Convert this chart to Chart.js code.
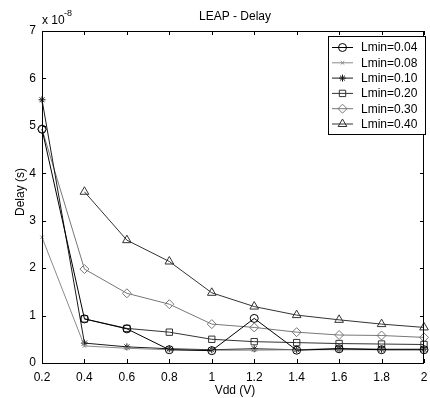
<!DOCTYPE html>
<html>
<head>
<meta charset="UTF-8" />
<title>LEAP - Delay</title>
<script src="https://cdn.jsdelivr.net/npm/chart.js"></script>
<style>
  body { margin: 0; background: #fff; }
  #wrap { width: 430px; height: 398px; }
</style>
</head>
<body>
<div id="wrap"><canvas id="delayChart" width="430" height="398"></canvas></div>
<script>
// Vdd (V) on x, delay in units of 1e-8 s on y
const vdd = [0.2, 0.4, 0.6, 0.8, 1.0, 1.2, 1.4, 1.6, 1.8, 2.0];
const lmin004 = [4.93, 0.93, 0.72, 0.28, 0.26, 0.94, 0.27, 0.30, 0.28, 0.28];
const lmin008 = [2.65, 0.36, 0.31, 0.28, 0.27, 0.27, 0.28, 0.28, 0.28, 0.28];
const lmin010 = [5.55, 0.42, 0.34, 0.30, 0.28, 0.30, 0.28, 0.30, 0.29, 0.29];
const lmin020 = [null, 0.93, 0.73, 0.65, 0.50, 0.45, 0.43, 0.41, 0.40, 0.39];
const lmin030 = [4.93, 1.98, 1.47, 1.24, 0.82, 0.75, 0.65, 0.59, 0.58, 0.54];
const lmin040 = [null, 3.61, 2.59, 2.14, 1.48, 1.19, 1.01, 0.91, 0.82, 0.75];
const xTicks = [0.2, 0.4, 0.6, 0.8, 1, 1.2, 1.4, 1.6, 1.8, 2];
const yTicks = [0, 1, 2, 3, 4, 5, 6, 7];

const FONT = "'Liberation Sans', Arial, sans-serif";

function series(label, values, color, style, radius) {
  return {
    label: label,
    data: values.map((v, i) => ({ x: vdd[i], y: v })),
    borderColor: color,
    borderWidth: 1,
    backgroundColor: 'rgba(0,0,0,0)',
    pointStyle: style,
    pointRadius: radius,
    pointBorderColor: color,
    pointBorderWidth: 1,
    tension: 0,
    clip: false,
    spanGaps: false
  };
}

const datasets = [
  series('Lmin=0.04', lmin004, '#000000', 'circle', 4),
  series('Lmin=0.08', lmin008, '#8a8a8a', 'crossRot', 2.5),
  series('Lmin=0.10', lmin010, '#1a1a1a', 'star', 3.5),
  series('Lmin=0.20', lmin020, '#333333', 'rect', 4.5),
  series('Lmin=0.30', lmin030, '#777777', 'rectRot', 4.5),
  series('Lmin=0.40', lmin040, '#333333', 'triangle', 5)
];

// frame, inward ticks, labels and legend in the MATLAB style
const matlabFrame = {
  id: 'matlabFrame',
  afterDatasetsDraw(chart) {
    const { ctx, chartArea: a, scales } = chart;
    ctx.save();
    ctx.strokeStyle = '#000';
    ctx.lineWidth = 1;
    ctx.strokeRect(a.left + 0.5, a.top + 0.5, a.right - a.left - 1, a.bottom - a.top);
    ctx.beginPath();
    xTicks.forEach(t => {
      const x = Math.round(scales.x.getPixelForValue(t)) + 0.5;
      ctx.moveTo(x, a.bottom); ctx.lineTo(x, a.bottom - 4);
      ctx.moveTo(x, a.top); ctx.lineTo(x, a.top + 4);
    });
    yTicks.forEach(t => {
      const y = Math.round(scales.y.getPixelForValue(t)) + 0.5;
      ctx.moveTo(a.left, y); ctx.lineTo(a.left + 4, y);
      ctx.moveTo(a.right, y); ctx.lineTo(a.right - 4, y);
    });
    ctx.stroke();

    // texts
    ctx.fillStyle = '#000';
    ctx.textBaseline = 'middle';
    ctx.textAlign = 'center';
    ctx.font = '12px ' + FONT;
    ctx.fillText('LEAP - Delay', 235, 17);
    ctx.fillText('Vdd (V)', 235, 391);
    ctx.textAlign = 'left';
    ctx.fillText('x 10', 42, 21);
    ctx.font = '9px ' + FONT;
    ctx.fillText('-8', 64, 14);
    ctx.save();
    ctx.translate(21, 192);
    ctx.rotate(-Math.PI / 2);
    ctx.textAlign = 'center';
    ctx.font = '12px ' + FONT;
    ctx.fillText('Delay (s)', 0, 0);
    ctx.restore();

    // legend box
    const bx = 328, by = 36, bw = 97, bh = 98;
    ctx.fillStyle = '#fff';
    ctx.fillRect(bx, by, bw, bh);
    ctx.strokeStyle = '#000';
    ctx.strokeRect(bx + 0.5, by + 0.5, bw, bh);
    chart.data.datasets.forEach((ds, i) => {
      const y = 47.5 + i * 15.3;
      ctx.strokeStyle = ds.borderColor;
      ctx.lineWidth = 1;
      ctx.beginPath();
      ctx.moveTo(332, y); ctx.lineTo(353, y);
      ctx.stroke();
      ctx.fillStyle = 'rgba(0,0,0,0)';
      Chart.helpers.drawPoint(ctx, {
        pointStyle: ds.pointStyle,
        radius: ds.pointRadius,
        rotation: 0,
        borderWidth: 1
      }, 342.5, y);
      ctx.fillStyle = '#000';
      ctx.textAlign = 'left';
      ctx.font = '12px ' + FONT;
      ctx.fillText(ds.label, 361, y + 0.5);
    });
    ctx.restore();
  }
};

new Chart(document.getElementById('delayChart'), {
  type: 'line',
  data: { datasets: datasets },
  options: {
    responsive: false,
    animation: false,
    layout: { padding: { top: 31, right: 1, left: 0, bottom: 0 } },
    plugins: { legend: { display: false }, title: { display: false }, tooltip: { enabled: false } },
    scales: {
      x: {
        type: 'linear',
        min: 0.2,
        max: 2,
        afterFit(s) { s.height = 35; s.paddingLeft = 0; s.paddingRight = 0; },
        afterBuildTicks(s) { s.ticks = xTicks.map(v => ({ value: v })); },
        grid: { display: false, drawTicks: false },
        border: { display: false },
        ticks: {
          padding: 7,
          color: '#000',
          font: { family: FONT, size: 12 },
          maxRotation: 0,
          callback: v => String(Math.round(v * 10) / 10)
        }
      },
      y: {
        type: 'linear',
        min: 0,
        max: 7,
        afterFit(s) { s.width = 42; s.paddingTop = 0; s.paddingBottom = 0; },
        afterBuildTicks(s) { s.ticks = yTicks.map(v => ({ value: v })); },
        grid: { display: false, drawTicks: false },
        border: { display: false },
        ticks: {
          padding: 6,
          color: '#000',
          font: { family: FONT, size: 12 },
          callback: v => String(v)
        }
      }
    }
  },
  plugins: [matlabFrame]
});
</script>
</body>
</html>
